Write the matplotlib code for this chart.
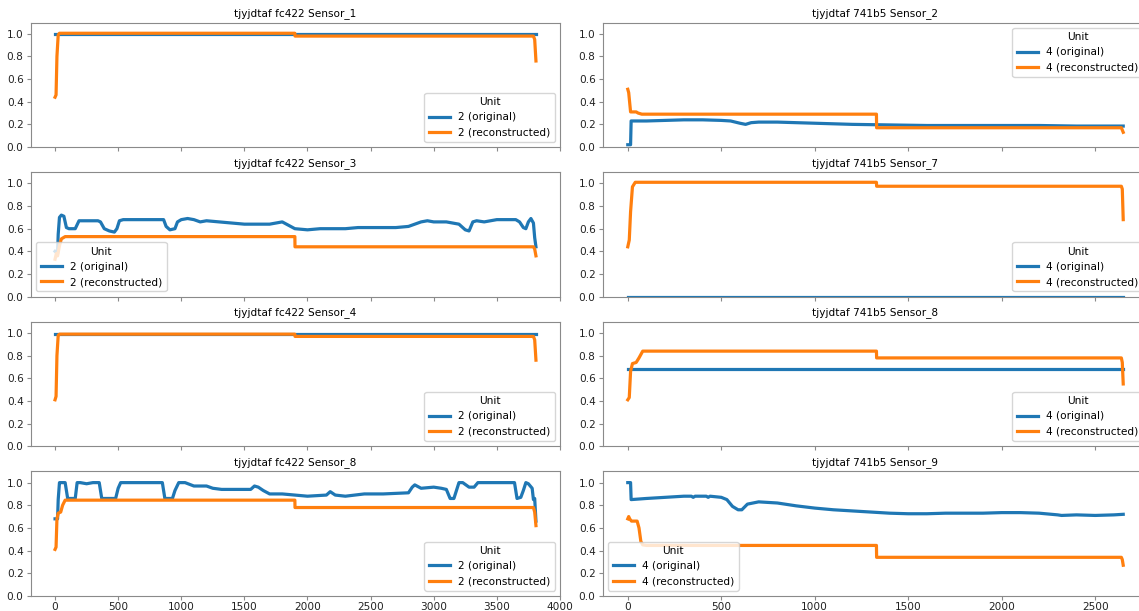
import matplotlib
matplotlib.use("Agg")
import matplotlib.pyplot as plt

plt.rcParams.update({
    "font.size": 7.6,
    "axes.edgecolor": "#8a8a8a",
    "xtick.color": "#8a8a8a",
    "ytick.color": "#8a8a8a",
    "xtick.labelcolor": "#222222",
    "ytick.labelcolor": "#222222",
    "xtick.major.size": 2.7,
    "ytick.major.size": 2.7,
    "xtick.major.pad": 1.8,
    "ytick.major.pad": 2.7,
    "axes.titlesize": 7.6,
    "legend.fontsize": 7.6,
    "legend.title_fontsize": 7.6,
})

BLUE = "#1f77b4"
ORANGE = "#ff7f0e"

# ---- engine fc422, unit 2 ----
fc_s1_orig_x = [0, 3810]
fc_s1_orig_y = [0.995, 0.995]
fc_s1_rec_x = [0, 8, 15, 25, 35, 1900, 1901, 3790, 3800, 3810]
fc_s1_rec_y = [0.44, 0.46, 0.80, 0.99, 1.005, 1.005, 0.98, 0.98, 0.95, 0.76]

fc_s3_orig_x = [0, 20, 25, 35, 50, 70, 90, 110, 130, 160, 190, 210, 240, 300, 340, 360,
                390, 430, 470, 490, 510, 540, 600, 700, 800, 860, 880, 910, 950, 970,
                1000, 1050, 1100, 1150, 1200, 1300, 1400, 1500, 1600, 1700, 1750, 1800,
                1850, 1900, 2000, 2100, 2200, 2300, 2400, 2500, 2600, 2700, 2800, 2850,
                2900, 2950, 3000, 3050, 3100, 3200, 3250, 3280, 3310, 3340, 3400, 3500,
                3600, 3650, 3680, 3710, 3730, 3750, 3770, 3790, 3800, 3810]
fc_s3_orig_y = [0.40, 0.38, 0.55, 0.70, 0.72, 0.71, 0.61, 0.60, 0.60, 0.60, 0.67, 0.67,
                0.67, 0.67, 0.67, 0.66, 0.60, 0.58, 0.57, 0.60, 0.67, 0.68, 0.68, 0.68,
                0.68, 0.68, 0.62, 0.59, 0.60, 0.66, 0.68, 0.69, 0.68, 0.66, 0.67, 0.66,
                0.65, 0.64, 0.64, 0.64, 0.65, 0.66, 0.63, 0.60, 0.59, 0.60, 0.60, 0.60,
                0.61, 0.61, 0.61, 0.61, 0.62, 0.64, 0.66, 0.67, 0.66, 0.66, 0.66, 0.64,
                0.59, 0.58, 0.66, 0.67, 0.66, 0.68, 0.68, 0.68, 0.66, 0.61, 0.60, 0.66,
                0.69, 0.65, 0.52, 0.44]
fc_s3_rec_x = [0, 10, 20, 35, 50, 80, 1900, 1901, 3790, 3800, 3810]
fc_s3_rec_y = [0.33, 0.38, 0.36, 0.45, 0.51, 0.53, 0.53, 0.44, 0.44, 0.42, 0.36]

fc_s4_orig_x = [0, 3810]
fc_s4_orig_y = [0.995, 0.995]
fc_s4_rec_x = [0, 8, 15, 25, 35, 1900, 1901, 3790, 3800, 3810]
fc_s4_rec_y = [0.41, 0.44, 0.80, 0.98, 0.99, 0.99, 0.97, 0.97, 0.94, 0.76]

fc_s8_orig_x = [0, 20, 25, 35, 45, 80, 100, 120, 160, 175, 200, 250, 300, 350, 370, 390,
                480, 500, 520, 700, 850, 870, 930, 950, 980, 1030, 1100, 1200, 1250,
                1320, 1400, 1550, 1580, 1610, 1650, 1700, 1800, 1900, 2000, 2150, 2180,
                2220, 2300, 2450, 2600, 2800, 2830, 2850, 2900, 3000, 3060, 3100, 3130,
                3160, 3180, 3200, 3230, 3280, 3320, 3350, 3640, 3660, 3690, 3710, 3730,
                3750, 3780, 3790, 3800, 3810]
fc_s8_orig_y = [0.68, 0.68, 0.85, 1.00, 1.00, 1.00, 0.86, 0.86, 0.86, 1.00, 1.00, 0.99,
                1.00, 1.00, 0.86, 0.86, 0.86, 0.95, 1.00, 1.00, 1.00, 0.86, 0.86, 0.93,
                1.00, 1.00, 0.97, 0.97, 0.95, 0.94, 0.94, 0.94, 0.97, 0.96, 0.93, 0.90,
                0.90, 0.89, 0.88, 0.89, 0.92, 0.89, 0.88, 0.90, 0.90, 0.91, 0.96, 0.98,
                0.95, 0.96, 0.95, 0.94, 0.86, 0.86, 0.93, 1.00, 1.00, 0.96, 0.96, 1.00,
                1.00, 0.86, 0.87, 0.93, 1.00, 0.99, 0.95, 0.85, 0.86, 0.66]
fc_s8_rec_x = [0, 8, 15, 25, 45, 60, 80, 1900, 1901, 3790, 3800, 3810]
fc_s8_rec_y = [0.41, 0.43, 0.68, 0.73, 0.74, 0.80, 0.845, 0.845, 0.78, 0.78, 0.74, 0.62]

# ---- engine 741b5, unit 4 ----
eng_s2_orig_x = [0, 15, 18, 100, 200, 300, 400, 500, 550, 600, 630, 660, 700, 800, 1000,
                 1200, 1400, 1600, 1800, 2000, 2200, 2400, 2650]
eng_s2_orig_y = [0.02, 0.02, 0.23, 0.23, 0.235, 0.24, 0.24, 0.235, 0.23, 0.21, 0.20,
                 0.215, 0.22, 0.22, 0.21, 0.20, 0.195, 0.19, 0.19, 0.19, 0.19, 0.185, 0.185]
eng_s2_rec_x = [0, 5, 15, 45, 55, 75, 1330, 1331, 2640, 2650]
eng_s2_rec_y = [0.51, 0.48, 0.31, 0.31, 0.30, 0.29, 0.29, 0.17, 0.17, 0.13]

eng_s7_orig_x = [0, 2650]
eng_s7_orig_y = [0.0, 0.0]
eng_s7_rec_x = [0, 8, 15, 25, 40, 1330, 1331, 2640, 2645, 2650]
eng_s7_rec_y = [0.44, 0.50, 0.75, 0.97, 1.01, 1.01, 0.975, 0.975, 0.95, 0.68]

eng_s8_orig_x = [0, 2650]
eng_s8_orig_y = [0.68, 0.68]
eng_s8_rec_x = [0, 8, 15, 25, 45, 60, 80, 1330, 1331, 2640, 2645, 2650]
eng_s8_rec_y = [0.41, 0.43, 0.66, 0.73, 0.74, 0.78, 0.84, 0.84, 0.78, 0.78, 0.74, 0.55]

eng_s9_orig_x = [0, 15, 18, 100, 200, 300, 340, 350, 360, 420, 430, 440, 500, 530, 560,
                 590, 610, 640, 700, 800, 900, 1000, 1100, 1200, 1300, 1400, 1500, 1600,
                 1700, 1800, 1900, 2000, 2100, 2200, 2300, 2320, 2400, 2500, 2600, 2650]
eng_s9_orig_y = [1.0, 1.0, 0.85, 0.86, 0.87, 0.88, 0.88, 0.87, 0.88, 0.88, 0.87, 0.88,
                 0.87, 0.85, 0.79, 0.76, 0.76, 0.81, 0.83, 0.82, 0.795, 0.775, 0.76,
                 0.75, 0.74, 0.73, 0.725, 0.725, 0.73, 0.73, 0.73, 0.735, 0.735, 0.73,
                 0.715, 0.71, 0.715, 0.71, 0.715, 0.72]
eng_s9_rec_x = [0, 5, 10, 20, 50, 60, 70, 80, 100, 1330, 1331, 2640, 2645, 2650]
eng_s9_rec_y = [0.68, 0.70, 0.68, 0.66, 0.66, 0.60, 0.48, 0.45, 0.445, 0.445, 0.34,
                0.34, 0.32, 0.27]

panels = [
    # (column, row, title, orig x, orig y, rec x, rec y, unit, legend loc)
    (0, 0, "tjyjdtaf fc422 Sensor_1", fc_s1_orig_x, fc_s1_orig_y, fc_s1_rec_x, fc_s1_rec_y, 2, "lower right"),
    (0, 1, "tjyjdtaf fc422 Sensor_3", fc_s3_orig_x, fc_s3_orig_y, fc_s3_rec_x, fc_s3_rec_y, 2, "lower left"),
    (0, 2, "tjyjdtaf fc422 Sensor_4", fc_s4_orig_x, fc_s4_orig_y, fc_s4_rec_x, fc_s4_rec_y, 2, "lower right"),
    (0, 3, "tjyjdtaf fc422 Sensor_8", fc_s8_orig_x, fc_s8_orig_y, fc_s8_rec_x, fc_s8_rec_y, 2, "lower right"),
    (1, 0, "tjyjdtaf 741b5 Sensor_2", eng_s2_orig_x, eng_s2_orig_y, eng_s2_rec_x, eng_s2_rec_y, 4, "upper right"),
    (1, 1, "tjyjdtaf 741b5 Sensor_7", eng_s7_orig_x, eng_s7_orig_y, eng_s7_rec_x, eng_s7_rec_y, 4, "lower right"),
    (1, 2, "tjyjdtaf 741b5 Sensor_8", eng_s8_orig_x, eng_s8_orig_y, eng_s8_rec_x, eng_s8_rec_y, 4, "lower right"),
    (1, 3, "tjyjdtaf 741b5 Sensor_9", eng_s9_orig_x, eng_s9_orig_y, eng_s9_rec_x, eng_s9_rec_y, 4, "lower left"),
]

W, H = 1139, 611
fig = plt.figure(figsize=(W / 100, H / 100), dpi=100)

col_left = [31, 603]
col_width = [529, 545]
row_top0 = 22.5
row_step = 149.6
row_height = 124.5

col_axes = {0: [], 1: []}
for col, row, title, ox, oy, rx, ry, unit, loc in panels:
    bottom = row_top0 + row_step * row + row_height
    rect = [col_left[col] / W, 1 - bottom / H, col_width[col] / W, row_height / H]
    share = col_axes[col][0] if col_axes[col] else None
    ax = fig.add_axes(rect, sharex=share)
    col_axes[col].append(ax)
    ax.plot(ox, oy, color=BLUE, lw=2.3, label=f"{unit} (original)")
    ax.plot(rx, ry, color=ORANGE, lw=2.3, label=f"{unit} (reconstructed)")
    ax.set_ylim(0, 1.1)
    ax.set_yticks([0.0, 0.2, 0.4, 0.6, 0.8, 1.0])
    ax.set_title(title, pad=4.5)
    ax.legend(title="Unit", loc=loc)
    if row < 3:
        ax.tick_params(labelbottom=False)

col_axes[0][0].set_xlim(-190.5, 4000.5)
col_axes[0][0].set_xticks(range(0, 4001, 500))
col_axes[1][0].set_xlim(-132.5, 2782.5)
col_axes[1][0].set_xticks(range(0, 2501, 500))

fig.savefig("out.png", dpi=100)
